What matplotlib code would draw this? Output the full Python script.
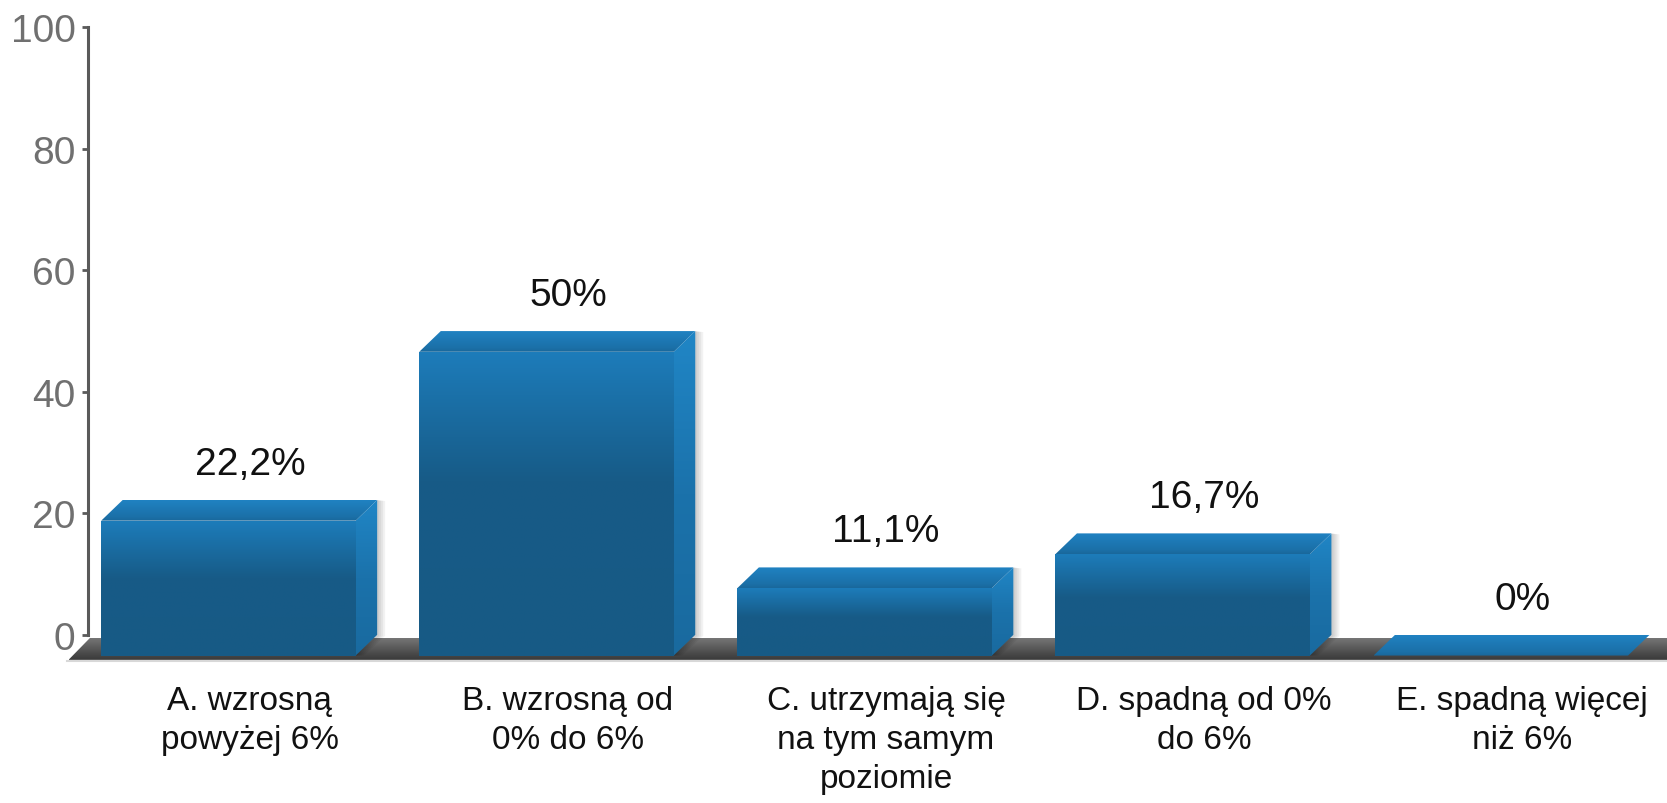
import numpy as np
import matplotlib.pyplot as plt
from matplotlib.patches import Polygon
from matplotlib.colors import LinearSegmentedColormap

plt.rcParams['font.family'] = ['Liberation Sans', 'DejaVu Sans']

# data
categories = ['A. wzrosną\npowyżej 6%', 'B. wzrosną od\n0% do 6%',
              'C. utrzymają się\nna tym samym\npoziomie', 'D. spadną od 0%\ndo 6%',
              'E. spadną więcej\nniż 6%']
values = [22.2, 50, 11.1, 16.7, 0]
value_labels = ['22,2%', '50%', '11,1%', '16,7%', '0%']
y_ticks = [0, 20, 40, 60, 80, 100]

W, H = 1667, 804
fig = plt.figure(figsize=(W / 100, H / 100), dpi=100)

# axes box in pixels (from top-left)
ax_l, ax_r, ax_t, ax_b = 40, 1667, 28.3, 672.3
ax = fig.add_axes([ax_l / W, 1 - ax_b / H, (ax_r - ax_l) / W, (ax_b - ax_t) / H])
xmin, xmax = -0.660, 4.455
ymin, ymax = -6, 100
spine_x = -0.509
ppx = (ax_r - ax_l) / (xmax - xmin)   # pixels per x unit
ppy = (ax_b - ax_t) / (ymax - ymin)   # pixels per y unit

# depth of the 3d effect (pixels)
dx = -21.5 / ppx
dy = -20.7 / ppy
bar_w = 0.8


def grad_poly(verts, stops, z):
    """Fill a polygon with a vertical gradient; stops: list of (pos, color), pos 0 = bottom."""
    verts = np.array(verts)
    poly = Polygon(verts, closed=True, facecolor='none', edgecolor='none')
    ax.add_patch(poly)
    cmap = LinearSegmentedColormap.from_list('g', stops)
    x0, x1 = verts[:, 0].min(), verts[:, 0].max()
    y0, y1 = verts[:, 1].min(), verts[:, 1].max()
    im = ax.imshow(np.linspace(0, 1, 256).reshape(-1, 1), cmap=cmap,
                   extent=[x0, x1, y0, y1], origin='lower', aspect='auto',
                   interpolation='bilinear', zorder=z)
    im.set_clip_path(poly)


# floor slab
f_top = -3 / ppy
f_bot = -25 / ppy
floor = [(spine_x + 2 / ppx, f_top), (xmax + 1, f_top),
         (xmax + 1 + dx, f_bot), (spine_x + 2 / ppx + dx, f_bot)]
grad_poly(floor, [(0, '#3a3a3a'), (0.25, '#474747'), (1, '#767676')], 1)
ax.plot([spine_x + dx, xmax], [f_bot - 1.5 / ppy] * 2, color='#d8d8d8', lw=1.5, zorder=0.9)

front_stops = [(0, '#175a85'), (0.58, '#175b87'), (1, '#1d7cba')]
top_stops = [(0, '#19679b'), (0.2, '#1b70a8'), (1, '#2082c2')]
side_stops = [(0, '#196a9f'), (0.5, '#1b72ab'), (1, '#2086c6')]

for i, v in enumerate(values):
    bl, br = i - bar_w / 2, i + bar_w / 2
    fl, fr = bl + dx, br + dx
    # soft shadow to the right of the side face
    if v > 0:
        for k in range(1, 5):
            off = 2.0 * k / ppx
            ax.add_patch(Polygon([(br, v), (br + off, v - 1 / ppy), (br + off, 0 - 1 / ppy),
                                  (fr + off, dy), (fr, dy)],
                                 closed=True, facecolor='black', alpha=0.05,
                                 edgecolor='none', zorder=1.5))
        grad_poly([(fl, dy), (fr, dy), (fr, v + dy), (fl, v + dy)], front_stops, 2)
        grad_poly([(fr, dy), (br, 0), (br, v), (fr, v + dy)], side_stops, 2.1)
    grad_poly([(fl, v + dy), (bl, v), (br, v), (fr, v + dy)], top_stops, 2.2)
    ax.annotate(value_labels[i], (i, v), xytext=(0, 18.7), textcoords='offset points',
                ha='center', va='baseline', fontsize=28, color='#111111', zorder=3)

ax.set_xlim(xmin, xmax)
ax.set_ylim(ymin, ymax)

for s in ['top', 'right', 'bottom']:
    ax.spines[s].set_visible(False)
ax.spines['left'].set_position(('data', spine_x))
ax.spines['left'].set_bounds(0, 100)
ax.spines['left'].set_color('#5a5a5a')
ax.spines['left'].set_linewidth(2.2)

ax.set_yticks(y_ticks)
ax.tick_params(axis='y', length=4, width=2, color='#5a5a5a', labelcolor='#707070',
               labelsize=28, pad=5)
ax.set_xticks(range(len(categories)))
ax.set_xticklabels(categories, fontsize=24, color='#111111', linespacing=1.33)
ax.tick_params(axis='x', length=0, pad=10)

fig.savefig('out.png', dpi=100)
